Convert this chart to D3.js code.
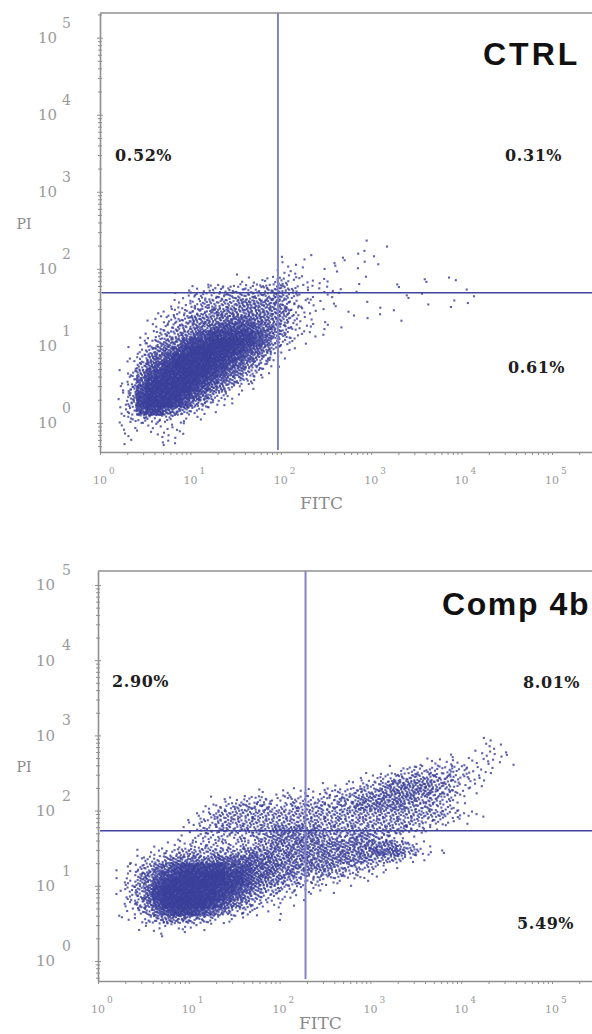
<!DOCTYPE html>
<html><head><meta charset="utf-8">
<script src="https://cdn.jsdelivr.net/npm/d3@7"></script>
<style>body{margin:0;background:#fff}</style>
</head><body><svg id="c" width="592" height="1034"></svg>
<script>
// ---------------- data ----------------
const decades = [0, 1, 2, 3, 4, 5];
const panelTitles = ["CTRL", "Comp 4b"];
const quadPercents1 = ["0.52%", "0.31%", "0.61%"]; // UL, UR, LR
const quadPercents2 = ["2.90%", "8.01%", "5.49%"];
const gates1 = [93, 49];   // FITC gate, PI gate
const gates2 = [193, 54];
const gridStep = 0.1;              // decades per density cell
const grid1Origin = [0, 2.4];      // log10 FITC at col 0, log10 PI at row 0 top
const grid2Origin = [0, 3.2];
const levelCounts = [0, 1, 2, 5, 9, 15, 21, 30, 42, 58]; // events per cell for density level
// density levels (rows top->bottom, cols left->right)
const density1 = [
"000000000000000000000000000001000000000000",
"000000000000000000000000000001010000000000",
"000000000000000000001011001110100000000000",
"000000000000000000002110011011100000000000",
"000000000000000100012210101000000000000000",
"000000000000000112233221210011000001101100",
"000000000122333333444322121010001100000010",
"000000001233344444454322121000000111000001",
"000000012234444555554322111001000000101110",
"000000123344555555555322100100111000000000",
"000001233455556666554321100011000100000000",
"000001234455677776654322111000000000000000",
"000012344567888887654222100000000000000000",
"000023455788999987643210000000000000000000",
"000124567899999876532100000000000000000000",
"000235679999998765421000000000000000000000",
"000246789999987654310000000000000000000000",
"001357899999876543100000000000000000000000",
"001368999998765432000000000000000000000000",
"002479999987653210000000000000000000000000",
"002489999876432100000000000000000000000000",
"002489998754321000000000000000000000000000",
"002378865432100000000000000000000000000000",
"002333332211000000000000000000000000000000",
"002122222100000000000000000000000000000000",
"001101222100000000000000000000000000000000",
"001100121000000000000000000000000000000000"
];
// density levels
const density2 = [
"",
"",
"00000000000000000000000000000000000000000011000",
"00000000000000000000000000000000000000000012100",
"00000000000000000000000000000000000000110122210",
"00000000000000000000000000000000000122222222110",
"00000000000000000000000000000000123333333221000",
"00000000000000000000000000001223344444433221000",
"00000000000000000000000010122334555554432210000",
"00000000000000000111222223334445555554432100000",
"00000000000011223332333333444555555444321000000",
"00000000000123344443344444445555554443321000000",
"00000000001234444444444444444444444444332210000",
"00000000012334444444444444444444444333221000000",
"00000000012334444445555544444444443321000000000",
"00000000112333333445555554445544321000000000000",
"00000011223333333445555555555555543210000000000",
"00001123344444445555555555555566654321100000000",
"00012334555556666665555555555544432100000000000",
"00123456788888777666555555444332100000000000000",
"00124567899999887665554444433221000000000000000",
"00134578999999887655443332211100000000000000000",
"00134689999998876544332211000000000000000000000",
"00134689999998765433221100000000000000000000000",
"00124579999987654322110000000000000000000000000",
"00123467888765433210100000000000000000000000000",
"00112345554432210000100000000000000000000000000",
"00001122222110000000000000000000000000000000000",
"00000011010000000000000000000000000000000000000"
];

// ---------------- layout / style ----------------
const panels = [
  { title: panelTitles[0], pct: quadPercents1, gates: gates1, grid: density1, origin: grid1Origin,
    left: 100, right: 600, top: 13, bottom: 452, xPx: 90.4, yLog: [-0.377, 5.32],
    titlePos: [483, 65], titleLS: 3,
    pctPos: [[115, 161], [505, 161], [508, 373]],
    ySupDx: 38, fitcDy: 57 },
  { title: panelTitles[1], pct: quadPercents2, gates: gates2, grid: density2, origin: grid2Origin,
    left: 98, right: 600, top: 571, bottom: 981, xPx: 90.8, yLog: [-0.266, 5.186],
    titlePos: [442, 615], titleLS: 1.6,
    pctPos: [[112, 687], [523, 688], [517, 929]],
    ySupDx: 36, fitcDy: 48 }
];

const svg = d3.select("#c");
const axisColor = "#8f8f8f";
const labelColor = "#9a9a9a";
const dotColor = "#3a409a";

function halton(i, b) { let f = 1, r = 0; while (i > 0) { f /= b; r += f * (i % b); i = Math.floor(i / b); } return r; }

function eventsFrom(rows, origin) {
  const ev = []; let idx = 1;
  rows.forEach((row, r) => {
    for (let c = 0; c < row.length; c++) {
      const n = levelCounts[+row[c]];
      for (let k = 0; k < n; k++) {
        const u = halton(idx, 2), v = halton(idx, 3); idx++;
        ev.push({ fitc: Math.pow(10, origin[0] + (c + u) * gridStep),
                  pi: Math.pow(10, origin[1] - (r + v) * gridStep) });
      }
    }
  });
  return ev;
}

panels.forEach((p, pi) => {
  const x = d3.scaleLog().domain([1, Math.pow(10, (p.right - p.left) / p.xPx)]).range([p.left, p.right]);
  const y = d3.scaleLog().domain([Math.pow(10, p.yLog[0]), Math.pow(10, p.yLog[1])]).range([p.bottom, p.top]);
  const g = svg.append("g");
  const clipId = "clip" + pi;
  svg.append("clipPath").attr("id", clipId).append("rect")
    .attr("x", p.left + 1).attr("y", p.top + 1).attr("width", p.right - p.left).attr("height", p.bottom - p.top - 2);

  // events
  const ev = eventsFrom(p.grid, p.origin);
  g.append("g").attr("clip-path", `url(#${clipId})`)
    .selectAll("rect").data(ev).join("rect")
    .attr("x", d => x(d.fitc) - 1.05).attr("y", d => y(d.pi) - 1.05)
    .attr("width", 2.1).attr("height", 2.1)
    .attr("fill", dotColor).attr("fill-opacity", 0.82);

  // quadrant gates
  g.append("line").attr("x1", x(p.gates[0])).attr("x2", x(p.gates[0]))
    .attr("y1", p.top).attr("y2", p.bottom - 2)
    .attr("stroke", "#8284c6").attr("stroke-width", 2);
  g.append("line").attr("x1", p.left + 2).attr("x2", p.right)
    .attr("y1", y(p.gates[1])).attr("y2", y(p.gates[1]))
    .attr("stroke", "#41449d").attr("stroke-width", 1.5);

  // frame
  g.append("line").attr("x1", p.left).attr("x2", p.right).attr("y1", p.top).attr("y2", p.top)
    .attr("stroke", axisColor).attr("stroke-width", 1.6);

  // minor/major tick values
  const tv = (lo, hi) => { const a = []; for (let d = -1; d <= 6; d++) for (let m = 1; m <= 9; m++) { const v = m * Math.pow(10, d); if (v >= lo && v <= hi) a.push(v); } return a; };

  const yAx = d3.axisLeft(y).tickValues(tv(y.domain()[0], y.domain()[1])).tickFormat("").tickSizeOuter(0);
  const yg = g.append("g").attr("transform", `translate(${p.left},0)`).call(yAx);
  yg.select(".domain").attr("stroke", axisColor).attr("stroke-width", 1.6);
  yg.selectAll(".tick line").attr("stroke", axisColor)
    .attr("x1", d => Math.abs(Math.log10(d) % 1) < 1e-9 ? 3 : 2)
    .attr("x2", d => Math.abs(Math.log10(d) % 1) < 1e-9 ? -3 : -2);

  const xAx = d3.axisBottom(x).tickValues(tv(1, x.domain()[1])).tickFormat("").tickSizeOuter(0).tickSizeInner(3);
  const xg = g.append("g").attr("transform", `translate(0,${p.bottom})`).call(xAx);
  xg.select(".domain").attr("stroke", axisColor).attr("stroke-width", 1.6);
  xg.selectAll(".tick line").attr("stroke", axisColor);

  // y tick labels 10^n
  decades.forEach(n => {
    const yy = y(Math.pow(10, n));
    g.append("text").attr("x", p.left - 43).attr("y", yy + 5.5).attr("text-anchor", "end")
      .attr("font-family", "DejaVu Serif").attr("font-size", 15).attr("fill", labelColor).text("10");
    g.append("text").attr("x", p.left - p.ySupDx).attr("y", yy - 10).attr("text-anchor", "start")
      .attr("font-family", "DejaVu Serif").attr("font-size", 14).attr("fill", labelColor).text(String(n));
  });
  // x tick labels 10^n
  decades.forEach(n => {
    const xx = x(Math.pow(10, n));
    g.append("text").attr("x", xx).attr("y", p.bottom + 32).attr("text-anchor", "middle")
      .attr("font-family", "DejaVu Serif").attr("font-size", 11).attr("fill", labelColor).text("10");
    g.append("text").attr("x", xx + 9).attr("y", p.bottom + 21.5).attr("text-anchor", "start")
      .attr("font-family", "DejaVu Serif").attr("font-size", 9).attr("fill", labelColor).text(String(n));
  });

  // axis titles
  g.append("text").attr("x", 24).attr("y", y(Math.pow(10, 2.5)) - 1).attr("text-anchor", "middle")
    .attr("font-family", "DejaVu Serif").attr("font-size", 14).attr("fill", "#8a8a8a").text("PI");
  g.append("text").attr("x", x(Math.pow(10, 2.45))).attr("y", p.bottom + p.fitcDy).attr("text-anchor", "middle")
    .attr("font-family", "DejaVu Serif").attr("font-size", 17).attr("fill", "#8a8a8a").text("FITC");

  // quadrant percentages
  p.pct.forEach((t, i) => {
    g.append("text").attr("x", p.pctPos[i][0]).attr("y", p.pctPos[i][1])
      .attr("font-family", "DejaVu Serif").attr("font-weight", "bold").attr("font-size", 16)
      .attr("letter-spacing", 0.6).attr("fill", "#1e1e1e").text(t);
  });

  // title
  g.append("text").attr("x", p.titlePos[0]).attr("y", p.titlePos[1])
    .attr("font-family", "Liberation Sans, Arial, sans-serif").attr("font-weight", "bold")
    .attr("font-size", 32).attr("letter-spacing", p.titleLS).attr("fill", "#111").text(p.title);
});
</script>
</body></html>
